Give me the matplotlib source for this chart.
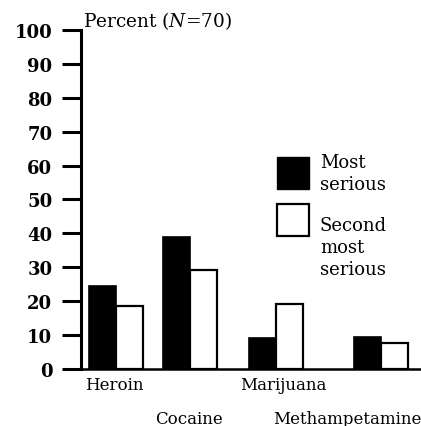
import matplotlib.pyplot as plt
import matplotlib.patches as patches

plt.rcParams['font.family'] = ['DejaVu Serif']
plt.rcParams['mathtext.fontset'] = 'custom'
plt.rcParams['mathtext.rm'] = 'DejaVu Serif'
plt.rcParams['mathtext.it'] = 'DejaVu Serif:italic'

# data
drugs = ['Heroin', 'Cocaine', 'Marijuana', 'Methampetamine']
most_serious = [24.5, 39, 9.2, 9.5]
second_serious = [18.7, 29.3, 19.2, 7.7]
y_ticks = [0, 10, 20, 30, 40, 50, 60, 70, 80, 90, 100]

# layout (uneven spacing as in the original figure)
group_x = [1.03, 3.21, 5.74, 8.82]
label_x = [0.97, 3.18, 5.97, 7.85]
label_drop = [11.5, 35.3, 11.5, 35.3]
bar_w = 0.8

fig = plt.figure(figsize=(4.21, 4.27), dpi=100)
ax = fig.add_axes([0.192, 0.1335, 0.8076, 0.794])

ax.bar([x - bar_w / 2 for x in group_x], most_serious, bar_w,
       color='black', edgecolor='black', linewidth=1.2)
ax.bar([x + bar_w / 2 for x in group_x], second_serious, bar_w,
       color='white', edgecolor='black', linewidth=1.6)

ax.set_xlim(0, 10)
ax.set_ylim(0, 100)
ax.set_yticks(y_ticks)
ax.set_yticklabels([str(t) for t in y_ticks], fontsize=13, fontweight='bold')
ax.tick_params(axis='y', length=13.5, width=2.2, pad=7)
ax.set_xticks([])
ax.spines['top'].set_visible(False)
ax.spines['right'].set_visible(False)
ax.spines['left'].set_linewidth(2.2)
ax.spines['bottom'].set_linewidth(1.8)

for name, lx, drop in zip(drugs, label_x, label_drop):
    ax.annotate(name, xy=(lx, 0), xytext=(0, -drop), textcoords='offset points',
                ha='center', va='center', fontsize=12, annotation_clip=False)

ax.text(0.005, 1.01, 'Percent ($N$=70)', transform=ax.transAxes,
        ha='left', va='baseline', fontsize=13.3)

# legend drawn by hand
ax.add_patch(patches.Rectangle((0.576, 0.531), 0.094, 0.094, transform=ax.transAxes,
                               facecolor='black', edgecolor='black', clip_on=False))
ax.add_patch(patches.Rectangle((0.576, 0.392), 0.094, 0.094, transform=ax.transAxes,
                               facecolor='white', edgecolor='black', linewidth=1.6,
                               clip_on=False))
ax.text(0.703, 0.531, 'Most\nserious', transform=ax.transAxes, ha='left',
        va='baseline', fontsize=13, linespacing=1.3)
ax.text(0.703, 0.280, 'Second\nmost\nserious', transform=ax.transAxes, ha='left',
        va='baseline', fontsize=13, linespacing=1.3)

fig.savefig('out.png', dpi=100)
